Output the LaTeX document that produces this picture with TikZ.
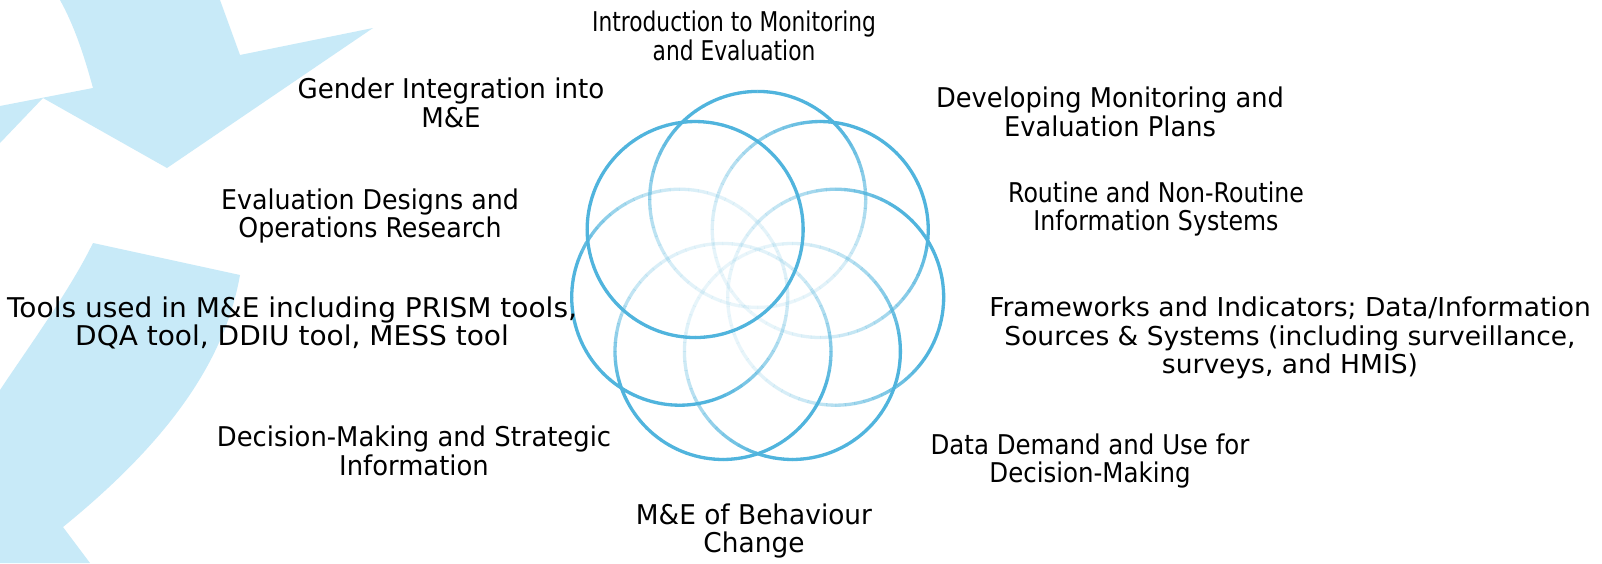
\documentclass[tikz,border=0pt]{standalone}
\usepackage{fontspec}
\setmainfont{DejaVu Sans}
\definecolor{ring}{RGB}{80,180,221}
\definecolor{bgblue}{RGB}{200,234,248}
\begin{document}
\begin{tikzpicture}[x=0.5pt,y=-0.5pt,
  lbl/.style={align=center, font=\fontsize{13.6}{14.3}\selectfont, inner sep=0pt, text=black, transform shape},
  lblsmall/.style={lbl, font=\fontsize{13.0}{14.3}\selectfont},
  ringline/.style={draw=ring, line width=1.65pt, line cap=butt},
  bgshape/.style={fill=bgblue, draw=none}]
\useasboundingbox (0,0) rectangle (1602,563);
\fill[white] (0,0) rectangle (1602,563);
% background arrows
\path[bgshape] (60,0) -- (220,0) -- (240,55) -- (373,28) -- (167,168) -- (43,98)
  -- (0,143) -- (0,106) -- (93,88) .. controls (84,55) and (74,25) .. (60,0) -- cycle;
\path[bgshape] (93,243) -- (240,275) .. controls (225,360) and (170,440) .. (63,527)
  -- (90,563) -- (0,563) -- (0,390) .. controls (30,345) and (70,290) .. (93,243) -- cycle;
% rings: position angle / dark direction / lowest opacity / gain
\foreach \pa/\ph/\lo/\g in {90/90/0.12/1.25, 38.57/40/0.12/1.25, -12.86/10/0.12/1.25,
    -64.29/-50/0.12/1.4, 244.29/270/0.15/1.8, 192.86/225/0.15/1.6, 141.43/141.43/1/1}{
  \pgfmathsetmacro{\cx}{757.7+80*cos(\pa)}
  \pgfmathsetmacro{\cy}{279.4-80*sin(\pa)}
  \foreach \k in {0,...,71}{
    \pgfmathsetmacro{\m}{5*\k+2.5}
    \pgfmathsetmacro{\op}{\lo+(1-\lo)*min(1,\g*((1.001+cos(\m-\ph))/2.001)^1.4)}
    \pgfmathsetmacro{\sa}{5*\k}
    \pgfmathsetmacro{\ea}{5*\k+5.2}
    \draw[ringline, draw opacity=\op] (\cx,\cy) ++(\sa:54pt) arc[start angle=\sa, end angle=\ea, radius=54pt];
  }
}
% labels
\node[lbl, xscale=0.80] (t1) at (734,36) {Introduction to Monitoring\\and Evaluation};
\node[lbl, xscale=0.945] (t2) at (1110,112) {Developing Monitoring and\\Evaluation Plans};
\node[lbl, xscale=0.87] (t3) at (1156,209) {Routine and Non-Routine\\Information Systems};
\node[lblsmall, xscale=1.02] (t4) at (1290,338) {Frameworks and Indicators; Data/Information\\Sources \& Systems (including surveillance,\\surveys, and HMIS)};
\node[lbl, xscale=0.90] (t5) at (1090,461) {Data Demand and Use for\\Decision-Making};
\node[lbl, xscale=0.97] (t6) at (754,531) {M\&E of Behaviour\\Change};
\node[lbl, xscale=0.95] (t7) at (414,451) {Decision-Making and Strategic\\Information};
\node[lbl, xscale=1.03] (t8) at (292,323) {Tools used in M\&E including PRISM tools,\\DQA tool, DDIU tool, MESS tool};
\node[lbl, xscale=0.93] (t9) at (370,216) {Evaluation Designs and\\Operations Research};
\node[lbl, xscale=0.96] (t10) at (451,103) {Gender Integration into\\M\&E};
\end{tikzpicture}
\end{document}
